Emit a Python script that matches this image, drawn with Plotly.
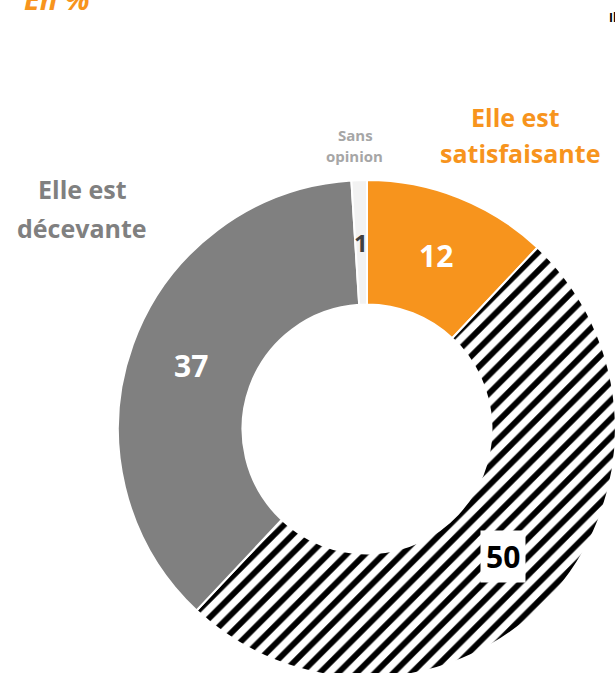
import math
import plotly.graph_objects as go

categories = ["Elle est satisfaisante", "Hachuré", "Elle est décevante", "Sans opinion"]
values = [12, 50, 37, 1]
colors = ["#F7941D", "#FFFFFF", "#808080", "#F2F2F2"]
patterns = ["", "/", "", ""]
value_text_colors = ["#FFFFFF", "#000000", "#FFFFFF", "#404040"]
value_text_sizes = [30, 30, 30, 24]

# figure slightly larger than the 615x673 window: the ring runs off the bottom/right edge
W, H = 618, 680
CX, CY, R = 367, 429, 249
HOLE = 0.5


def px(x):
    return x / W


def py(y):
    return 1 - y / H


dom_x = [(CX - R) / W, min((CX + R) / W, 1)]
dom_y = [max(1 - (CY + R) / H, 0), 1 - (CY - R) / H]

fig = go.Figure(go.Pie(
    labels=categories,
    values=values,
    sort=False,
    direction="clockwise",
    rotation=0,
    hole=HOLE,
    textinfo="none",
    hoverinfo="label+value",
    marker=dict(
        colors=colors,
        line=dict(color="white", width=2),
        pattern=dict(shape=patterns, fgcolor="black", bgcolor="white", size=13, solidity=0.45),
    ),
    domain=dict(x=dom_x, y=dom_y),
    showlegend=False,
))

FONT = "Open Sans"
annotations = []
total = sum(values)
cum = 0
text_r = R * (1 + HOLE) / 2
for v, col, sz in zip(values, value_text_colors, value_text_sizes):
    mid = (cum + v / 2) / total * 2 * math.pi
    cum += v
    fx = CX + text_r * math.sin(mid)
    fy = CY - text_r * math.cos(mid)
    a = dict(x=fx / W, y=1 - fy / H, xref="paper", yref="paper", xanchor="center", yanchor="middle",
             text=f"<b>{v}</b>", showarrow=False, font=dict(family=FONT, size=sz, color=col))
    if v == 50:
        a.update(bgcolor="white", borderpad=5)
    annotations.append(a)


def label(text, x, y, size, color):
    return dict(x=px(x), y=py(y), xref="paper", yref="paper", xanchor="center", yanchor="middle",
                text=f"<b>{text}</b>", showarrow=False, font=dict(family=FONT, size=size, color=color))


annotations += [
    label("Elle est", 515, 117, 25, "#F7941D"),
    label("satisfaisante", 520, 153, 25, "#F7941D"),
    label("Elle est", 82, 189, 25, "#808080"),
    label("décevante", 82, 228, 25, "#808080"),
    label("Sans", 355, 135, 15, "#A6A6A6"),
    label("opinion", 354, 156, 15, "#A6A6A6"),
    dict(x=px(22), y=1, xref="paper", yref="paper", xanchor="left", yanchor="bottom",
         yshift=-20, text="<b><i>En %</i></b>", showarrow=False,
         font=dict(family=FONT, size=29, color="#F7941D")),
    dict(x=px(607), y=py(17), xref="paper", yref="paper", xanchor="left", yanchor="middle",
         text="<b>Il</b>", showarrow=False,
         font=dict(family=FONT, size=12, color="#000000")),
]

fig.update_layout(
    width=W, height=H,
    margin=dict(l=0, r=0, t=0, b=0),
    paper_bgcolor="white",
    plot_bgcolor="white",
    annotations=annotations,
)

fig.write_html(
    "out.html",
    config={"displayModeBar": False},
    post_script="document.body.style.margin='0';document.body.style.overflow='hidden';",
)
